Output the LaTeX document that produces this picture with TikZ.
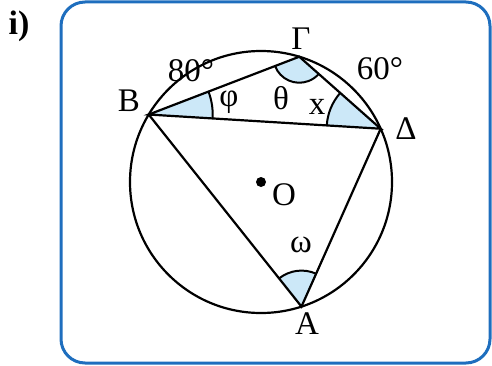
\documentclass[tikz,border=0pt]{standalone}
\usepackage{fontspec}
\setmainfont{Liberation Serif}
\usetikzlibrary{calc, angles}

\definecolor{frameblue}{RGB}{30,110,190}
\definecolor{anglefill}{RGB}{204,232,248}

\begin{document}
\begin{tikzpicture}[
    x=0.5pt, y=0.5pt,
    line/.style  = {line width=1.1pt, black},
    ang/.style   = {draw=black, line width=1pt, fill=anglefill},
    lbl/.style   = {font=\fontsize{16.5}{18}\selectfont, inner sep=0pt},
]
\useasboundingbox (0,0) rectangle (492,365);

%% ---- Frame ----
\draw[frameblue, line width=1.5pt, rounded corners=12pt] (61,2) rectangle (490,363);
\node[font=\fontsize{17}{19}\selectfont\bfseries, inner sep=0pt] (tag) at (19,339) {i)};

%% ---- Circle and points ----
\coordinate (O) at (261,183);
\coordinate (B) at ($(O)+(149:131)$);
\coordinate (G) at ($(O)+(73:131)$);
\coordinate (D) at ($(O)+(24:131)$);
\coordinate (A) at ($(O)+(288:131)$);

%% ---- Angles ----
\pic[ang, angle radius=32pt] {angle = D--B--G};
\pic[ang, angle radius=13pt] {angle = B--G--D};
\pic[ang, angle radius=27pt] {angle = G--D--B};
\pic[ang, angle radius=18pt] {angle = D--A--B};

\draw[line] (O) circle[radius=131];
\draw[line] (B) -- (G) -- (D) -- cycle;
\draw[line] (B) -- (A) -- (D);
\fill (O) circle[radius=5];

%% ---- Labels ----
\node[lbl] (lB) at (129,264) {B};
\node[lbl] (lG) at (301,326) {Γ};
\node[lbl] (lD) at (406,236) {Δ};
\node[lbl] (lA) at (307,41) {A};
\node[lbl] (lO) at (284,170) {O};
\node[lbl] (arcBG) at (191,294) {80°};
\node[lbl] (arcGD) at (380,296) {60°};
\node[lbl] (phi) at (229,263) {φ};
\node[lbl] (theta) at (281,267) {θ};
\node[lbl] (xx) at (317,258) {x};
\node[lbl] (omega) at (301,120) {ω};

\end{tikzpicture}
\end{document}
